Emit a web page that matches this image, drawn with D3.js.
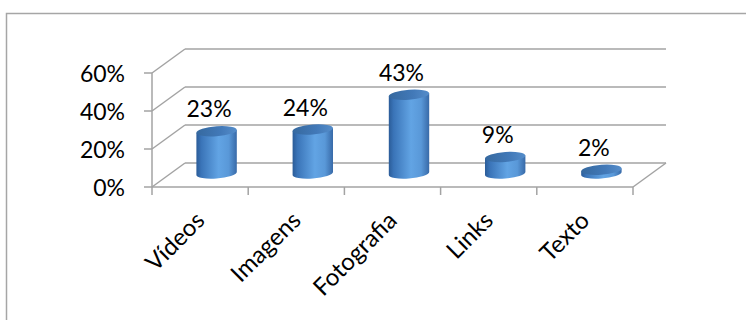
<!DOCTYPE html>
<html><head><meta charset="utf-8">
<script src="https://cdn.jsdelivr.net/npm/d3@7/dist/d3.min.js"></script>
<style>html,body{margin:0;padding:0;background:#fff;}svg{display:block;}</style>
</head><body>
<script>
const categories = ["Vídeos", "Imagens", "Fotografia", "Links", "Texto"];
const values = [0.23, 0.24, 0.43, 0.09, 0.02];
const valueLabels = ["23%", "24%", "43%", "9%", "2%"];
const yTicks = [0, 0.2, 0.4, 0.6];
const yTickLabels = ["0%", "20%", "40%", "60%"];

const W = 746, H = 320;
const svg = d3.select("body").append("svg").attr("width", W).attr("height", H);
const font = "Lato, 'Open Sans', sans-serif";

// frame
svg.append("rect").attr("x", 6.5).attr("y", 13.5).attr("width", 800).attr("height", 400)
  .attr("fill", "none").attr("stroke", "#a6a6a6").attr("stroke-width", 1.5);

const depthX = 33, depthY = -24;
const x = d3.scaleBand().domain(categories).range([152, 633]).paddingInner(0).paddingOuter(0);
const yFront = d3.scaleLinear().domain([0, 0.6]).range([187, 73]);
const yMid = d3.scaleLinear().domain([0, 0.6]).range([173.5, 173.5 - 110]);

const grid = svg.append("g").attr("stroke", "#a3a3a3").attr("stroke-width", 1.5).attr("fill", "none");
const x0 = x.range()[0], x1 = x.range()[1];
yTicks.forEach(t => {
  const yf = yFront(t);
  grid.append("line").attr("x1", x0 + depthX).attr("x2", x1 + depthX)
    .attr("y1", yf + depthY).attr("y2", yf + depthY);
  grid.append("line").attr("x1", x0).attr("y1", yf).attr("x2", x0 + depthX).attr("y2", yf + depthY);
  grid.append("line").attr("x1", x0 - 8).attr("x2", x0).attr("y1", yf).attr("y2", yf);
});
grid.append("line").attr("x1", x0).attr("x2", x0).attr("y1", yFront(0.6)).attr("y2", yFront(0));
grid.append("line").attr("x1", x0).attr("x2", x1).attr("y1", yFront(0)).attr("y2", yFront(0));
grid.append("line").attr("x1", x1).attr("y1", yFront(0)).attr("x2", x1 + depthX).attr("y2", yFront(0) + depthY);
const bounds = categories.map(c => x(c)).concat([x1]);
bounds.forEach(b => {
  grid.append("line").attr("x1", b).attr("x2", b).attr("y1", yFront(0)).attr("y2", yFront(0) + 8);
});

// y labels
svg.append("g").selectAll("text").data(yTicks).join("text")
  .attr("x", 125).attr("y", d => yFront(d) + 8.5)
  .attr("text-anchor", "end").attr("font-family", font).attr("font-size", 23).attr("fill", "#000")
  .text((d, i) => yTickLabels[i]);

// gradients
const defs = svg.append("defs");
const g1 = defs.append("linearGradient").attr("id", "body").attr("x1", 0).attr("x2", 1).attr("y1", 0).attr("y2", 0);
[[0, "#2b5c98"], [0.12, "#3a74b8"], [0.55, "#62a4e4"], [0.8, "#5998d8"], [1, "#386aa8"]]
  .forEach(s => g1.append("stop").attr("offset", s[0]).attr("stop-color", s[1]));
const g2 = defs.append("linearGradient").attr("id", "top").attr("x1", 0).attr("x2", 1).attr("y1", 0).attr("y2", 0);
[[0, "#36699f"], [0.6, "#4279b8"], [1, "#558dca"]]
  .forEach(s => g2.append("stop").attr("offset", s[0]).attr("stop-color", s[1]));

const rx = x.bandwidth() * 0.21, ry = 5;
const bars = svg.append("g");
categories.forEach((c, i) => {
  const cx = x(c) + x.bandwidth() / 2 + depthX / 2;
  const yb = yMid(0), yt = yMid(values[i]);
  const g = bars.append("g").attr("transform", `translate(${cx},0) skewY(-4) translate(${-cx},0)`);
  g.append("path")
    .attr("d", `M${cx - rx},${yt} L${cx - rx},${yb} A${rx},${ry} 0 0 0 ${cx + rx},${yb} L${cx + rx},${yt} Z`)
    .attr("fill", "url(#body)");
  g.append("ellipse").attr("cx", cx).attr("cy", yt).attr("rx", rx).attr("ry", ry)
    .attr("fill", "url(#top)");
});

// value labels
svg.append("g").selectAll("text").data(categories).join("text")
  .attr("x", d => x(d) + x.bandwidth() / 2 + 9)
  .attr("y", (d, i) => yMid(values[i]) - 14)
  .attr("text-anchor", "middle").attr("font-family", font).attr("font-size", 23).attr("fill", "#000")
  .text((d, i) => valueLabels[i]);

// category labels
svg.append("g").selectAll("text").data(categories).join("text")
  .attr("transform", d => `translate(${x(d) + x.bandwidth() / 2 + 6},${222}) rotate(-45)`)
  .attr("text-anchor", "end").attr("font-family", font).attr("font-size", 24).attr("fill", "#000")
  .text(d => d);
</script>
</body></html>
